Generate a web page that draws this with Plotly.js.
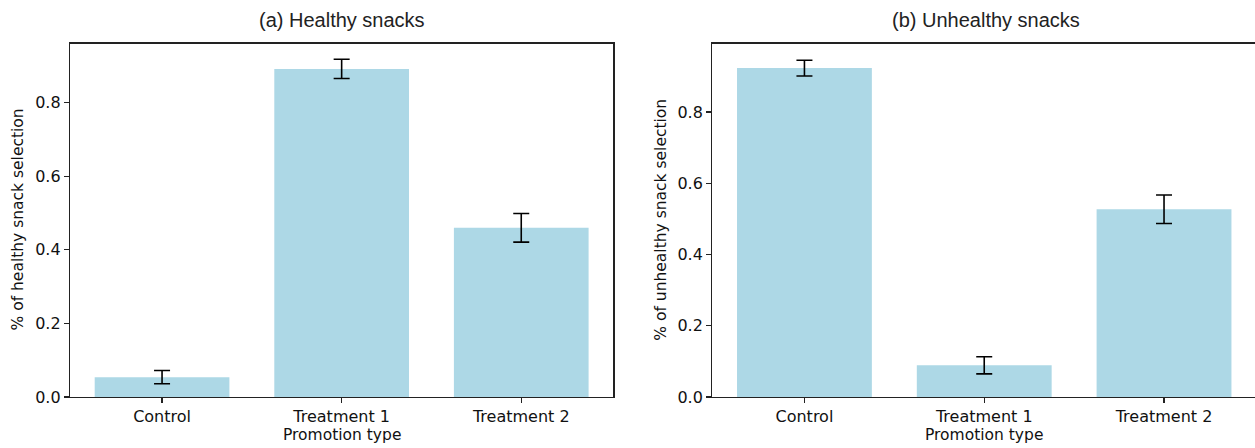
<!DOCTYPE html>
<html>
<head>
<meta charset="utf-8">
<script src="https://cdn.plot.ly/plotly-3.0.1.min.js"></script>
<style>html,body{margin:0;padding:0;background:#fff;}#chart{width:1255px;height:448px;}</style>
</head>
<body>
<div id="chart"></div>
<script>
const categories = ["Control", "Treatment 1", "Treatment 2"];
const healthyValues = [0.054, 0.892, 0.460];
const healthyErrors = [0.018, 0.026, 0.039];
const unhealthyValues = [0.923, 0.089, 0.527];
const unhealthyErrors = [0.022, 0.024, 0.040];
const yTickValues = [0, 0.2, 0.4, 0.6, 0.8];
const panelTitles = ["(a) Healthy snacks", "(b) Unhealthy snacks"];
const yTitles = ["% of healthy snack selection", "% of unhealthy snack selection"];
const xTitle = "Promotion type";

const W = 1255, H = 448;
const barColor = "#ADD8E6";
const tickFont = {family: "DejaVu Sans", size: 16, color: "#111"};
const labelFont = {family: "DejaVu Sans", size: 15.5, color: "#111"};

function errBar(arr) {
  return {type: "data", array: arr, visible: true, color: "#000", thickness: 1.6, width: 8};
}

const traces = [
  {type: "bar", x: categories, y: healthyValues, error_y: errBar(healthyErrors),
   marker: {color: barColor}, width: 0.75, xaxis: "x", yaxis: "y", hoverinfo: "skip"},
  {type: "bar", x: categories, y: unhealthyValues, error_y: errBar(unhealthyErrors),
   marker: {color: barColor}, width: 0.75, xaxis: "x2", yaxis: "y2", hoverinfo: "skip"}
];

const px = v => v / W;
const py = v => 1 - v / H;

function xAxis(domain, range, anchor) {
  return {domain: domain, range: range, anchor: anchor, type: "category",
    showline: true, mirror: true, linecolor: "#222", linewidth: 1.2,
    ticks: "outside", ticklen: 5, tickwidth: 1.2, tickcolor: "#222",
    tickfont: tickFont, showgrid: false, zeroline: false, automargin: false, fixedrange: true};
}
function yAxis(domain, range, anchor, mirror) {
  return {domain: domain, range: range, anchor: anchor,
    showline: true, mirror: mirror, linecolor: "#222", linewidth: 1.2,
    ticks: "outside", ticklen: 5, tickwidth: 1.2, tickcolor: "#222",
    tickvals: yTickValues, tickformat: ".1f", tickfont: tickFont,
    showgrid: false, zeroline: false, automargin: false, fixedrange: true};
}

const yDom = [py(397), py(43.5)];
const layout = {
  width: W, height: H,
  margin: {l: 0, r: 0, t: 0, b: 0, pad: 0},
  paper_bgcolor: "#fff", plot_bgcolor: "#fff",
  showlegend: false,
  xaxis: xAxis([px(70), px(613.3)], [-0.5125, 2.5125], "y"),
  yaxis: yAxis(yDom, [0, 0.961], "x", true),
  xaxis2: xAxis([px(712.3), 1], [-0.5125, 2.506], "y2"),
  yaxis2: yAxis(yDom, [0, 0.992], "x2", false),
  annotations: [
    {text: panelTitles[0], xref: "paper", yref: "paper", x: px(341.7), y: py(20), xanchor: "center", yanchor: "middle", showarrow: false,
     font: {family: "Liberation Sans", size: 20, color: "#222"}},
    {text: panelTitles[1], xref: "paper", yref: "paper", x: px(986), y: py(20), xanchor: "center", yanchor: "middle", showarrow: false,
     font: {family: "Liberation Sans", size: 20, color: "#222"}},
    {text: xTitle, xref: "paper", yref: "paper", x: px(341.7), y: py(435), xanchor: "center", yanchor: "middle", showarrow: false,
     font: labelFont},
    {text: xTitle, xref: "paper", yref: "paper", x: px(984), y: py(435), xanchor: "center", yanchor: "middle", showarrow: false,
     font: labelFont},
    {text: yTitles[0], xref: "paper", yref: "paper", x: px(17.5), y: py(220), xanchor: "center", yanchor: "middle", showarrow: false,
     textangle: -90, font: labelFont},
    {text: yTitles[1], xref: "paper", yref: "paper", x: px(660.7), y: py(220), xanchor: "center", yanchor: "middle", showarrow: false,
     textangle: -90, font: labelFont}
  ]
};

Plotly.newPlot("chart", traces, layout, {displayModeBar: false, staticPlot: true});
</script>
</body>
</html>
